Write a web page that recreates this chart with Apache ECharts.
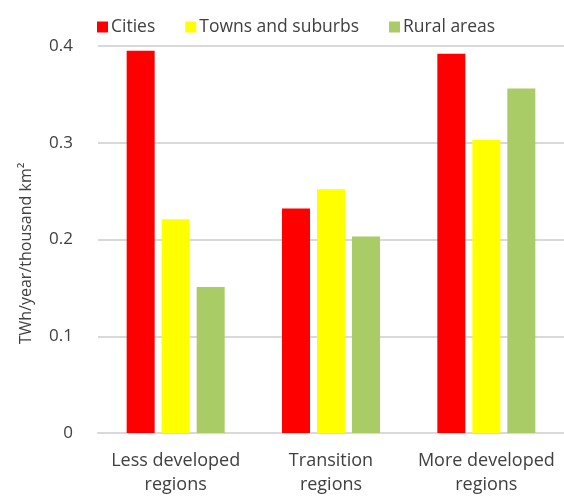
<!DOCTYPE html>
<html><head><meta charset="utf-8">
<script src="https://cdn.jsdelivr.net/npm/echarts@6/dist/echarts.min.js"></script>
<style>html,body{margin:0;padding:0;background:#fff}#c{width:564px;height:497px}</style>
</head><body><div id="c"></div>
<script>
var categories = ['Less developed\nregions', 'Transition\nregions', 'More developed\nregions'];
var cities = [0.395, 0.232, 0.392];
var towns = [0.221, 0.252, 0.303];
var rural = [0.151, 0.203, 0.356];
var seriesNames = ['Cities', 'Towns and suburbs', 'Rural areas'];
var colors = ['#FF0000', '#FFFF00', '#A9CC66'];
var yTicks = [0, 0.1, 0.2, 0.3, 0.4];

var font = '"Open Sans", "Noto Sans", sans-serif';
var chart = echarts.init(document.getElementById('c'));
chart.setOption({
  animation: false,
  textStyle: {fontFamily: font},
  legend: {
    top: 13, left: 92, itemWidth: 11, itemHeight: 11, itemGap: 30,
    icon: 'rect',
    textStyle: {fontSize: 17.5, color: '#404040', fontFamily: font, padding: [0,0,0,-2]},
    data: seriesNames
  },
  grid: {left: 98, right: -6, top: 46, bottom: 61},
  xAxis: {
    type: 'category', data: categories,
    axisTick: {show: false},
    axisLine: {lineStyle: {color: '#d9d9d9', width: 2}},
    axisLabel: {interval: 0, fontSize: 18, color: '#404040', lineHeight: 24, margin: 16, fontFamily: font}
  },
  yAxis: {
    type: 'value', min: 0, max: 0.4, interval: 0.1,
    name: 'TWh/year/thousand km²', nameLocation: 'middle', nameGap: 64, nameRotate: 90,
    nameTextStyle: {fontSize: 16, color: '#404040', fontFamily: font, padding: [0,28,0,0]},
    axisLabel: {fontSize: 17, color: '#404040', margin: 25, fontFamily: font,
      formatter: function(v){ var i = yTicks.indexOf(Math.round(v*10)/10); return i>=0 ? String(yTicks[i]) : ''; }},
    splitLine: {lineStyle: {color: '#d9d9d9', width: 2}},
    axisLine: {show: false}, axisTick: {show: false}
  },
  series: [
    {name: seriesNames[0], type: 'bar', data: cities, barWidth: 28, barGap: '25%', itemStyle: {color: colors[0]}},
    {name: seriesNames[1], type: 'bar', data: towns, barWidth: 28, barGap: '25%', itemStyle: {color: colors[1]}},
    {name: seriesNames[2], type: 'bar', data: rural, barWidth: 28, barGap: '25%', itemStyle: {color: colors[2]}}
  ]
});
</script></body></html>
